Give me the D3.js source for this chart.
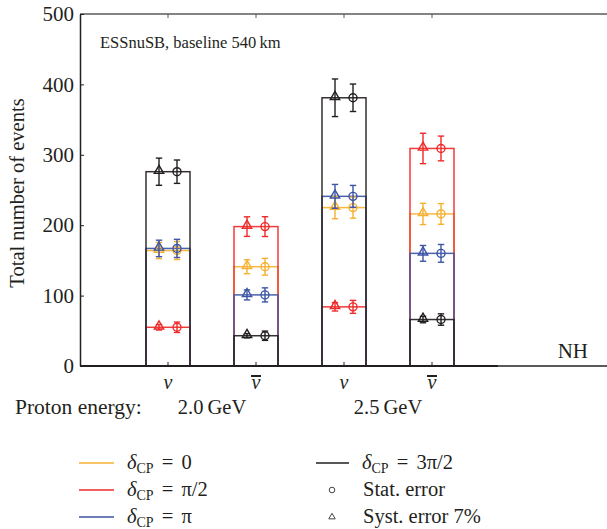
<!DOCTYPE html>
<html>
<head>
<meta charset="utf-8">
<script src="https://cdn.jsdelivr.net/npm/d3@7"></script>
</head>
<body style="margin:0;background:#fff">
<svg id="chart" width="607" height="529" style="display:block"></svg>
<script>
// ---- Data ----
const categories = ["ν", "ν̄", "ν", "ν̄"];
const barIsAnti = [false, true, false, true];
const energyLabels = ["2.0 GeV", "2.5 GeV"];
const yTicks = [0, 100, 200, 300, 400, 500];

const seriesNames = ["0", "π/2", "π", "3π/2"];
const seriesColors = ["#f5b133", "#ee2a2a", "#3d55a5", "#231f20"];

const delta0       = [164, 141, 225, 216];
const deltaHalfPi  = [55, 198, 84, 309];
const deltaPi      = [167, 101, 241, 160];
const delta3HalfPi = [276, 43, 381, 66];

// statistical errors (circles)
const stat0       = [12.8, 11.9, 15.0, 14.7];
const statHalfPi  = [7.4, 14.1, 9.2, 17.6];
const statPi      = [12.9, 10.0, 15.5, 12.6];
const stat3HalfPi = [16.6, 6.6, 19.5, 8.1];

// systematic 7% errors (triangles)
const syst0       = [11.5, 9.9, 15.8, 15.1];
const systHalfPi  = [3.9, 13.9, 5.9, 21.6];
const systPi      = [11.7, 7.1, 16.9, 11.2];
const syst3HalfPi = [19.3, 3.0, 26.7, 4.6];

const seriesValues = [delta0, deltaHalfPi, deltaPi, delta3HalfPi];
const seriesStat = [stat0, statHalfPi, statPi, stat3HalfPi];
const seriesSyst = [syst0, systHalfPi, systPi, syst3HalfPi];

// ---- Layout ----
const svg = d3.select("#chart");
const plotLeft = 80, plotTop = 14, plotBottom = 366;
const dark = "#231f20";
const FONT = '"Liberation Serif"';

const y = d3.scaleLinear().domain([0, 500]).range([plotBottom, plotTop]);
const x = d3.scaleBand().domain(d3.range(categories.length))
  .range([124, 476]).paddingInner(0.5).paddingOuter(0.25);
const bw = x.bandwidth();
const cx = i => x(i) + bw / 2;

// top frame line (grey) to right edge
svg.append("line").attr("x1", plotLeft).attr("x2", 607).attr("y1", plotTop).attr("y2", plotTop)
  .attr("stroke", "#5a5a5a").attr("stroke-width", 1.5);
categories.forEach((c, i) => {
  svg.append("line").attr("x1", cx(i)).attr("x2", cx(i)).attr("y1", plotTop).attr("y2", plotTop + 4)
    .attr("stroke", "#5a5a5a").attr("stroke-width", 1);
});

// bars: stacked outline rectangles
const drawOrder = [0, 1, 2, 3];
drawOrder.forEach(s => {
  svg.append("g").selectAll("rect").data(seriesValues[s]).join("rect")
    .attr("x", (d, i) => x(i))
    .attr("y", d => y(d))
    .attr("width", bw)
    .attr("height", d => plotBottom - y(d))
    .attr("fill", "none")
    .attr("stroke", seriesColors[s])
    .attr("stroke-width", 1.5)
    .attr("stroke-opacity", 0.92);
});

// error bars + markers
const off = 9, cap = 3.2;
function errBar(g, xx, v, e, color) {
  g.append("line").attr("x1", xx).attr("x2", xx).attr("y1", y(v + e)).attr("y2", y(v - e))
    .attr("stroke", color).attr("stroke-width", 1.4);
  [v + e, v - e].forEach(t => {
    g.append("line").attr("x1", xx - cap).attr("x2", xx + cap).attr("y1", y(t)).attr("y2", y(t))
      .attr("stroke", color).attr("stroke-width", 1.4);
  });
}
const tri = d3.symbol().type(d3.symbolTriangle).size(38);
drawOrder.forEach(s => {
  const g = svg.append("g");
  seriesValues[s].forEach((v, i) => {
    const col = seriesColors[s];
    const xt = cx(i) - off, xc = cx(i) + off;
    errBar(g, xt, v, seriesSyst[s][i], col);
    errBar(g, xc, v, seriesStat[s][i], col);
    g.append("path").attr("d", tri).attr("transform", `translate(${xt},${y(v) - 1})`)
      .attr("fill", "none").attr("stroke", col).attr("stroke-width", 1.4);
    g.append("circle").attr("cx", xc).attr("cy", y(v)).attr("r", 4)
      .attr("fill", "none").attr("stroke", col).attr("stroke-width", 1.4);
  });
});

// y axis
const yAxis = d3.axisLeft(y).tickValues(yTicks).tickSizeInner(-4).tickSizeOuter(0).tickPadding(6);
const gy = svg.append("g").attr("transform", `translate(${plotLeft},0)`).call(yAxis);
gy.select(".domain").attr("stroke", dark).attr("stroke-width", 1.5);
gy.selectAll(".tick line").attr("stroke", dark);
gy.selectAll(".tick text").attr("font-size", 21);

// x axis
svg.append("line").attr("x1", plotLeft).attr("x2", 498).attr("y1", plotBottom).attr("y2", plotBottom)
  .attr("stroke", dark).attr("stroke-width", 1.8);
svg.append("line").attr("x1", 498).attr("x2", 607).attr("y1", plotBottom).attr("y2", plotBottom)
  .attr("stroke", "#5a5a5a").attr("stroke-width", 1.8);
const xAxis = d3.axisBottom(x).tickFormat(i => "ν").tickSizeInner(-4).tickSizeOuter(0).tickPadding(9);
const gx = svg.append("g").attr("transform", `translate(0,${plotBottom})`).call(xAxis);
gx.select(".domain").remove();
gx.selectAll(".tick line").attr("stroke", dark);
gx.selectAll(".tick text").attr("font-size", 20).attr("font-style", "italic");
gx.selectAll(".tick").each(function(i) {
  if (barIsAnti[i]) {
    d3.select(this).append("line").attr("x1", -5).attr("x2", 5).attr("y1", 10).attr("y2", 10)
      .attr("stroke", dark).attr("stroke-width", 2);
  }
});

// y label
svg.append("text").attr("transform", "translate(24,193) rotate(-90)")
  .attr("text-anchor", "middle").attr("font-size", 20.5).text("Total number of events");

// annotation
svg.append("text").attr("x", 100).attr("y", 48).attr("font-size", 16.5).text("ESSnuSB, baseline 540\u2009km");
svg.append("text").attr("x", 588).attr("y", 358).attr("text-anchor", "end").attr("font-size", 21).text("NH");

// proton energy row
svg.append("text").attr("x", 15).attr("y", 414).attr("font-size", 21.5).text("Proton energy:");
energyLabels.forEach((t, k) => {
  svg.append("text").attr("x", (cx(2 * k) + cx(2 * k + 1)) / 2).attr("y", 414)
    .attr("text-anchor", "middle").attr("font-size", 20.5).text(t.replace(" ", "\u2009"));
});

// legend
function deltaLabel(xp, yp, rhs) {
  const t = svg.append("text").attr("x", xp).attr("y", yp).attr("font-size", 20.5)
    .style("word-spacing", "3px");
  t.append("tspan").text("δ").attr("font-style", "italic");
  t.append("tspan").text("CP").attr("font-size", 14).attr("dy", 4);
  t.append("tspan").text(" = " + rhs).attr("dy", -4);
}
const legRows = [463, 490, 517];
[0, 1, 2].forEach(k => {
  svg.append("line").attr("x1", 79).attr("x2", 114).attr("y1", legRows[k]).attr("y2", legRows[k])
    .attr("stroke", seriesColors[k]).attr("stroke-width", 1.5);
  deltaLabel(127, legRows[k] + 6, seriesNames[k]);
});
svg.append("line").attr("x1", 316).attr("x2", 349).attr("y1", legRows[0]).attr("y2", legRows[0])
  .attr("stroke", seriesColors[3]).attr("stroke-width", 1.5);
deltaLabel(362, legRows[0] + 6, seriesNames[3]);
svg.append("circle").attr("cx", 332).attr("cy", legRows[1]).attr("r", 2.8)
  .attr("fill", "none").attr("stroke", "#444").attr("stroke-width", 1);
svg.append("text").attr("x", 363).attr("y", legRows[1] + 6).attr("font-size", 20.5).text("Stat. error");
svg.append("path").attr("d", d3.symbol().type(d3.symbolTriangle).size(18))
  .attr("transform", `translate(332,${legRows[2]})`)
  .attr("fill", "none").attr("stroke", "#444").attr("stroke-width", 1);
svg.append("text").attr("x", 363).attr("y", legRows[2] + 6).attr("font-size", 20.5).text("Syst. error 7%");

// fonts for all text
svg.selectAll("text").style("font-family", FONT).style("fill", dark);
svg.selectAll("g").attr("font-family", null);
</script>
</body>
</html>
